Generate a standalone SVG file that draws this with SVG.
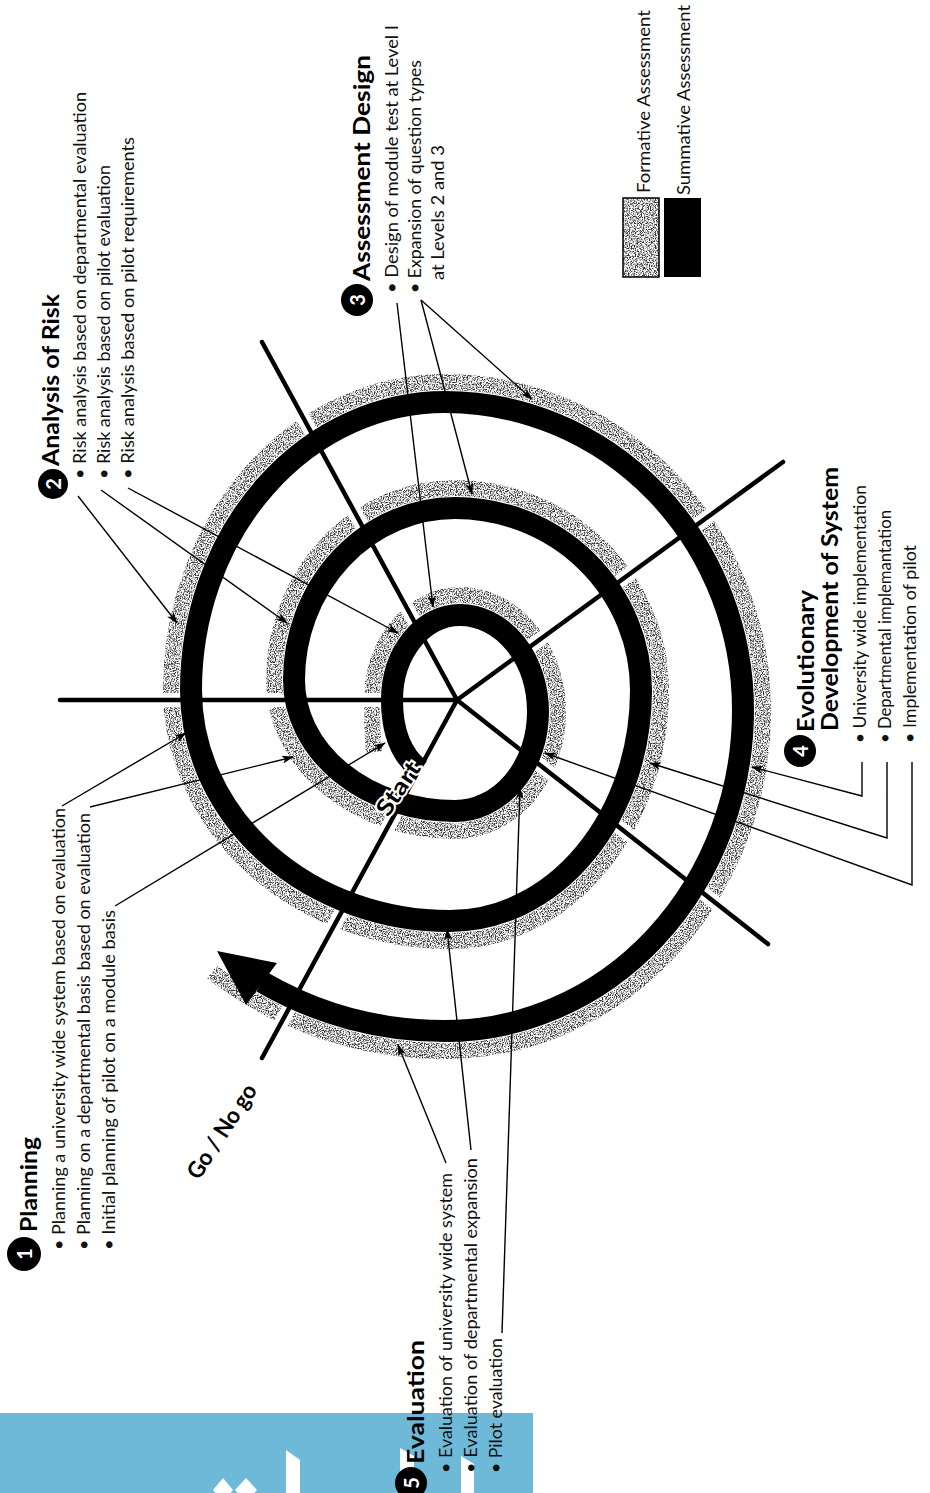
<svg xmlns="http://www.w3.org/2000/svg" width="930" height="1493" viewBox="0 0 930 1493">
<defs>
<filter id="stip" filterUnits="userSpaceOnUse" x="0" y="0" width="930" height="1493" color-interpolation-filters="sRGB">
<feTurbulence type="fractalNoise" baseFrequency="0.85" numOctaves="2" seed="4" result="n"/>
<feColorMatrix in="n" type="matrix" values="0 0 0 0 0.2  0 0 0 0 0.2  0 0 0 0 0.2  -4 0 0 0 2.32" result="s"/>
<feComposite in="s" in2="SourceAlpha" operator="in"/>
</filter>
<marker id="ah" viewBox="0 0 12 8" refX="11" refY="4" markerWidth="13" markerHeight="8" orient="auto" markerUnits="userSpaceOnUse">
<path d="M0,0 L12,4 L0,8 L3,4 z" fill="#000"/>
</marker>
<style>
.t{font-family:Lato,"Open Sans","Liberation Sans",sans-serif;font-size:17px;fill:#111}
.h{font-family:Lato,"Open Sans","Liberation Sans",sans-serif;font-size:23px;font-weight:700;fill:#000}
.num{font-family:Lato,"Liberation Sans",sans-serif;font-size:20px;font-weight:700;fill:#fff;text-anchor:middle;dominant-baseline:central}
.spk{stroke:#000;stroke-width:4.5;stroke-linecap:round}
.halo{stroke:#fff;stroke-width:14}
.con{stroke:#000;stroke-width:1.4;fill:none}
.band{fill:none;stroke:#000;stroke-width:22}
.gray{fill:none;stroke:#888;stroke-width:16}
</style>
</defs>
<rect width="930" height="1493" fill="#fff"/>

<g id="watermark">
<rect x="0" y="1413" width="533" height="80" fill="#6fb9d8"/>
<g fill="#fff">
<path d="M213 1490 L223 1478 L233 1490 L223 1502 Z"/>
<path d="M235 1490 L246 1478 L257 1490 L246 1502 Z"/>
<path d="M286 1450 L300 1460 L300 1493 L286 1493 Z"/>
<path d="M400 1448 L414 1456 L414 1493 L400 1493 Z"/>
<path d="M461 1456 L474 1464 L474 1493 L461 1493 Z"/>
</g>
</g>

<g id="spiral">
<path class="gray" filter="url(#stip)" d="M374 752 Q372 730 372 700 A88 105 0 0 1 460 595 A98 117 0 0 1 558 712 A103 119 0 0 1 455 831 A181 151 0 0 1 274 680 A181 192 0 0 1 455 488 A206 202 0 0 1 661 690 A211 251 0 0 1 450 941 A279 251 0 0 1 171 690 A274 308 0 0 1 445 382 A318 328 0 0 1 763 710 A318 341 0 0 1 445 1051 A370 353 0 0 1 212 972"/>
<g class="halo">
<line x1="262" y1="342" x2="457" y2="700"/>
<line x1="60" y1="700" x2="457" y2="700"/>
<line x1="262" y1="1058" x2="457" y2="700"/>
<line x1="783" y1="462" x2="457" y2="700"/>
<line x1="768" y1="944" x2="457" y2="700"/>
</g>
<path class="band" d="M420 770 Q392 748 392 700 A68 85 0 0 1 460 615 A78 97 0 0 1 538 712 A83 99 0 0 1 455 811 A161 131 0 0 1 294 680 A161 172 0 0 1 455 508 A186 182 0 0 1 641 690 A191 231 0 0 1 450 921 A259 231 0 0 1 191 690 A254 288 0 0 1 445 402 A298 308 0 0 1 743 710 A298 321 0 0 1 445 1031 A350 333 0 0 1 262 982"/>
<polygon points="217,951 277,963 246,1005" fill="#000"/>
</g>

<g id="spokes" class="spk">
<line x1="262" y1="342" x2="457" y2="700"/>
<line x1="60" y1="700" x2="457" y2="700"/>
<line x1="262" y1="1058" x2="457" y2="700"/>
<line x1="783" y1="462" x2="457" y2="700"/>
<line x1="768" y1="944" x2="457" y2="700"/>
</g>

<g id="connectors" class="con" marker-end="url(#ah)">
<line x1="62" y1="806" x2="186" y2="733"/>
<line x1="90" y1="807" x2="293" y2="757"/>
<line x1="115" y1="906" x2="385" y2="743"/>
<line x1="78" y1="496" x2="177" y2="623"/>
<line x1="101" y1="490" x2="287" y2="623"/>
<line x1="128" y1="488" x2="398" y2="633"/>
<line x1="397" y1="303" x2="433" y2="607"/>
<line x1="421" y1="300" x2="472" y2="494"/>
<line x1="421" y1="300" x2="532" y2="399"/>
<polyline points="862,762 862,796 752,767"/>
<polyline points="887,762 887,838 650,763"/>
<polyline points="912,762 912,885 545,753"/>
<line x1="446" y1="1163" x2="398" y2="1045"/>
<line x1="471" y1="1150" x2="447" y2="929"/>
<line x1="502" y1="1333" x2="520" y2="788"/>
</g>

<g id="planning">
<circle cx="24" cy="1254" r="17" fill="#000"/>
<text class="num" transform="translate(24,1254) rotate(-90)">1</text>
<text class="h" transform="translate(37,1232) rotate(-90)" textLength="95" lengthAdjust="spacingAndGlyphs">Planning</text>
<text class="t" transform="translate(65,1250) rotate(-90)" textLength="442" lengthAdjust="spacingAndGlyphs">• Planning a university wide system based on evaluation</text>
<text class="t" transform="translate(90,1250) rotate(-90)" textLength="437" lengthAdjust="spacingAndGlyphs">• Planning on a departmental basis based on evaluation</text>
<text class="t" transform="translate(115,1250) rotate(-90)" textLength="340" lengthAdjust="spacingAndGlyphs">• Initial planning of pilot on a module basis</text>
</g>

<g id="risk">
<circle cx="53" cy="484" r="15" fill="#000"/>
<text class="num" transform="translate(53,484) rotate(-90)">2</text>
<text class="h" transform="translate(59,466) rotate(-90)" textLength="172" lengthAdjust="spacingAndGlyphs">Analysis of Risk</text>
<text class="t" transform="translate(86,479) rotate(-90)" textLength="387" lengthAdjust="spacingAndGlyphs">• Risk analysis based on departmental evaluation</text>
<text class="t" transform="translate(110,479) rotate(-90)" textLength="314" lengthAdjust="spacingAndGlyphs">• Risk analysis based on pilot evaluation</text>
<text class="t" transform="translate(134,479) rotate(-90)" textLength="342" lengthAdjust="spacingAndGlyphs">• Risk analysis based on pilot requirements</text>
</g>

<g id="design">
<circle cx="357" cy="300" r="16" fill="#000"/>
<text class="num" transform="translate(357,300) rotate(-90)">3</text>
<text class="h" transform="translate(370,281) rotate(-90)" textLength="226" lengthAdjust="spacingAndGlyphs">Assessment Design</text>
<text class="t" transform="translate(398,293) rotate(-90)" textLength="268" lengthAdjust="spacingAndGlyphs">• Design of module test at Level I</text>
<text class="t" transform="translate(421,293) rotate(-90)" textLength="233" lengthAdjust="spacingAndGlyphs">• Expansion of question types</text>
<text class="t" transform="translate(444,280) rotate(-90)" textLength="135" lengthAdjust="spacingAndGlyphs">at Levels 2 and 3</text>
</g>

<g id="evolution">
<circle cx="800" cy="751" r="16" fill="#000"/>
<text class="num" transform="translate(800,751) rotate(-90)">4</text>
<text class="h" transform="translate(814,732) rotate(-90)" textLength="142" lengthAdjust="spacingAndGlyphs">Evolutionary</text>
<text class="h" transform="translate(838,731) rotate(-90)" textLength="264" lengthAdjust="spacingAndGlyphs">Development of System</text>
<text class="t" transform="translate(866,743) rotate(-90)" textLength="258" lengthAdjust="spacingAndGlyphs">• University wide implementation</text>
<text class="t" transform="translate(891,743) rotate(-90)" textLength="233" lengthAdjust="spacingAndGlyphs">• Departmental implemantation</text>
<text class="t" transform="translate(916,743) rotate(-90)" textLength="198" lengthAdjust="spacingAndGlyphs">• Implementation of pilot</text>
</g>

<g id="evaluation">
<circle cx="411" cy="1483" r="16" fill="#000"/>
<text class="num" transform="translate(411,1483) rotate(-90)">5</text>
<text class="h" transform="translate(424,1464) rotate(-90)" textLength="124" lengthAdjust="spacingAndGlyphs">Evaluation</text>
<text class="t" transform="translate(452,1473) rotate(-90)" textLength="300" lengthAdjust="spacingAndGlyphs">• Evaluation of university wide system</text>
<text class="t" transform="translate(477,1473) rotate(-90)" textLength="315" lengthAdjust="spacingAndGlyphs">• Evaluation of departmental expansion</text>
<text class="t" transform="translate(502,1473) rotate(-90)" textLength="135" lengthAdjust="spacingAndGlyphs">• Pilot evaluation</text>
</g>

<g id="legend">
<rect x="623" y="198" width="36" height="79" fill="#999" filter="url(#stip)"/>
<rect x="623" y="198" width="36" height="79" fill="none" stroke="#000" stroke-width="1.5"/>
<rect x="664" y="198" width="37" height="79" fill="#000"/>
<text class="t" transform="translate(650,193) rotate(-90)" textLength="183" lengthAdjust="spacingAndGlyphs">Formative Assessment</text>
<text class="t" transform="translate(690,195) rotate(-90)" textLength="190" lengthAdjust="spacingAndGlyphs">Summative Assessment</text>
</g>

<g id="gonogo">
<text class="h" font-size="22" transform="translate(199,1181) rotate(-57)" textLength="108" lengthAdjust="spacingAndGlyphs">Go / No go</text>
</g>

<g id="start">
<text class="h" font-size="21" stroke="#fff" stroke-width="4" paint-order="stroke" transform="translate(388,818) rotate(-56)" textLength="60" lengthAdjust="spacingAndGlyphs">Start</text>
</g>
</svg>
